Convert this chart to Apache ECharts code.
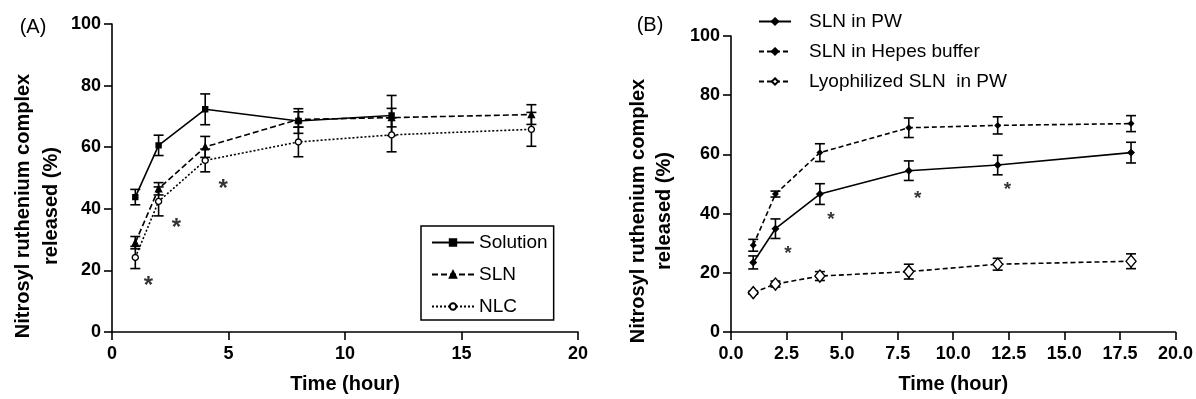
<!DOCTYPE html>
<html>
<head>
<meta charset="utf-8">
<script src="https://cdn.jsdelivr.net/npm/echarts@6/dist/echarts.min.js"></script>
<style>
html,body{margin:0;padding:0;background:#fff;}
#c{width:1196px;height:399px;}
</style>
</head>
<body>
<div id="c"></div>
<script>
// ---- Data ----
var timeA = [1, 2, 4, 8, 12, 18];
var solutionTime = [1, 2, 4, 8, 12];
var solution = [43.8, 60.6, 72.3, 68.5, 70.3];
var solutionErr = [2.5, 3.3, 5.0, 4.0, 6.5];
var sln = [29.0, 46.5, 60.1, 69.0, 69.6, 70.6];
var slnErr = [2.0, 2.0, 3.4, 2.5, 3.0, 3.2];
var nlc = [24.2, 42.4, 55.7, 61.7, 64.0, 65.8];
var nlcErr = [3.6, 4.7, 3.7, 4.8, 5.5, 5.5];
var starsA = [[1.56, 16.4], [2.76, 35.4], [4.77, 47.8]];

var timeB = [1, 2, 4, 8, 12, 18];
var slnPW = [23.5, 34.9, 46.6, 54.5, 56.4, 60.6];
var slnPWErr = [2.2, 3.3, 3.5, 3.3, 3.3, 3.5];
var slnHepes = [29.3, 46.6, 60.6, 69.0, 69.8, 70.4];
var slnHepesErr = [2.0, 1.0, 3.0, 3.3, 2.9, 2.7];
var lyoPW = [13.3, 16.2, 18.9, 20.4, 22.9, 23.9];
var lyoPWErr = [0.5, 1.0, 1.5, 2.5, 2.0, 2.5];
var starsB = [[2.56, 27.9], [4.5, 39.4], [8.4, 46.4], [12.44, 49.4]];

var namesA = ['Solution', 'SLN', 'NLC'];
var namesB = ['SLN in PW', 'SLN in Hepes buffer', 'Lyophilized SLN  in PW'];
var yTicks = [0, 20, 40, 60, 80, 100];
var xTicksA = [0, 5, 10, 15, 20];
var xTicksB = [0, 2.5, 5, 7.5, 10, 12.5, 15, 17.5, 20];
var yTitle = 'Nitrosyl ruthenium complex\nreleased (%)';
var xTitle = 'Time (hour)';

// ---- helpers ----
function pairs(xs, ys) { return ys.map(function (v, i) { return [xs[i], v]; }); }
function triples(xs, ys, es) { return ys.map(function (v, i) { return [xs[i], v, es[i]]; }); }
var FONT = 'Liberation Sans, Arial, sans-serif';

function errorSeries(xi, xs, ys, es) {
  return {
    type: 'custom', xAxisIndex: xi, yAxisIndex: xi, silent: true, z: 3,
    data: triples(xs, ys, es),
    renderItem: function (params, api) {
      var x = api.value(0), y = api.value(1), e = api.value(2);
      var t = api.coord([x, y + e]), b = api.coord([x, y - e]);
      var w = 5;
      var st = { stroke: '#000', lineWidth: 1.6 };
      return {
        type: 'group', children: [
          { type: 'line', shape: { x1: t[0], y1: t[1], x2: b[0], y2: b[1] }, style: st },
          { type: 'line', shape: { x1: t[0] - w, y1: t[1], x2: t[0] + w, y2: t[1] }, style: st },
          { type: 'line', shape: { x1: b[0] - w, y1: b[1], x2: b[0] + w, y2: b[1] }, style: st }
        ]
      };
    }
  };
}
function lineSeries(xi, name, xs, ys, lineType, symbol, size, filled) {
  return {
    type: 'line', name: name, xAxisIndex: xi, yAxisIndex: xi, z: 4,
    data: pairs(xs, ys), symbol: symbol, symbolSize: size, showSymbol: true,
    lineStyle: { color: '#000', width: 1.6, type: lineType },
    itemStyle: { color: filled ? '#000' : '#fff', borderColor: '#000', borderWidth: 1.4 },
    emphasis: { disabled: true }, animation: false
  };
}
function starSeries(xi, pts, fs) {
  return {
    type: 'scatter', xAxisIndex: xi, yAxisIndex: xi, data: pts, symbolSize: 1,
    itemStyle: { color: 'rgba(0,0,0,0)' }, silent: true,
    label: { show: true, position: 'inside', formatter: '*', fontSize: fs, fontWeight: 'bold', color: '#000', fontFamily: FONT, offset: [0, Math.round(fs * 0.22)] }
  };
}
function yAxisOf(gi) {
  return {
    gridIndex: gi, type: 'value', min: 0, max: 100, interval: 20,
    axisLine: { show: true, lineStyle: { color: '#000', width: 1.6 } },
    axisTick: { show: true, length: 8, lineStyle: { color: '#000', width: 1.6 } },
    axisLabel: { color: '#000', fontSize: 18, fontWeight: 'bold', fontFamily: FONT, margin: 11 },
    splitLine: { show: false }
  };
}
function xAxisOf(gi, interval, fmt) {
  return {
    gridIndex: gi, type: 'value', min: 0, max: 20, interval: interval,
    axisLine: { show: true, onZero: false, lineStyle: { color: '#000', width: 1.6 } },
    axisTick: { show: true, length: 8, lineStyle: { color: '#000', width: 1.6 } },
    axisLabel: { color: '#000', fontSize: 18, fontWeight: 'bold', fontFamily: FONT, margin: 13, formatter: fmt },
    splitLine: { show: false },
    name: xTitle, nameLocation: 'middle', nameGap: 42,
    nameTextStyle: { color: '#000', fontSize: 20, fontWeight: 'bold', fontFamily: FONT }
  };
}

var option = {
  backgroundColor: '#fff',
  animation: false,
  grid: [
    { left: 112, top: 24, width: 466, height: 310 },
    { left: 731, top: 36, width: 448, height: 298 }
  ],
  xAxis: [
    xAxisOf(0, 5, function (v) { return String(v); }),
    xAxisOf(1, 2.5, function (v) { return v.toFixed(1); })
  ],
  yAxis: [yAxisOf(0), yAxisOf(1)],
  legend: [
    {
      data: namesA, orient: 'vertical', left: 421, top: 226,
      itemWidth: 42, itemHeight: 8, itemGap: 13,
      padding: [7, 6, 4, 10], borderColor: '#000', borderWidth: 1.5,
      textStyle: { color: '#000', fontSize: 19, fontFamily: FONT },
      selectedMode: false
    },
    {
      data: namesB, orient: 'vertical', left: 758, top: 12,
      itemWidth: 32, itemHeight: 8, itemGap: 11, padding: 0,
      textStyle: { color: '#000', fontSize: 19, fontFamily: FONT, padding: [0, 0, 0, 13] },
      selectedMode: false
    }
  ],
  graphic: [
    { type: 'text', x: 33, y: 27, style: { text: '(A)', fontSize: 20, fontFamily: FONT, fill: '#000', align: 'center', verticalAlign: 'middle' } },
    { type: 'text', x: 650, y: 25, style: { text: '(B)', fontSize: 20, fontFamily: FONT, fill: '#000', align: 'center', verticalAlign: 'middle' } },
    { type: 'text', x: 37, y: 206, rotation: Math.PI / 2, style: { text: yTitle, fontSize: 20, fontWeight: 'bold', fontFamily: FONT, fill: '#000', align: 'center', verticalAlign: 'middle', lineHeight: 28 } },
    { type: 'text', x: 651, y: 211, rotation: Math.PI / 2, style: { text: yTitle, fontSize: 20, fontWeight: 'bold', fontFamily: FONT, fill: '#000', align: 'center', verticalAlign: 'middle', lineHeight: 26 } }
  ],
  series: [
    errorSeries(0, solutionTime, solution, solutionErr),
    errorSeries(0, timeA, sln, slnErr),
    errorSeries(0, timeA, nlc, nlcErr),
    lineSeries(0, namesA[0], solutionTime, solution, 'solid', 'rect', 5, true),
    lineSeries(0, namesA[1], timeA, sln, [6, 3], 'triangle', 6, true),
    lineSeries(0, namesA[2], timeA, nlc, [2, 2], 'circle', 6, false),
    starSeries(0, starsA, 24),
    errorSeries(1, timeB, slnPW, slnPWErr),
    errorSeries(1, timeB, slnHepes, slnHepesErr),
    errorSeries(1, timeB, lyoPW, lyoPWErr),
    lineSeries(1, namesB[0], timeB, slnPW, 'solid', 'diamond', 6, true),
    lineSeries(1, namesB[1], timeB, slnHepes, [5, 3], 'diamond', 5, true),
    lineSeries(1, namesB[2], timeB, lyoPW, [5, 3], 'diamond', [10, 12], false),
    starSeries(1, starsB, 19)
  ]
};
var chart = echarts.init(document.getElementById('c'), null, { renderer: 'canvas' });
chart.setOption(option);
</script>
</body>
</html>
